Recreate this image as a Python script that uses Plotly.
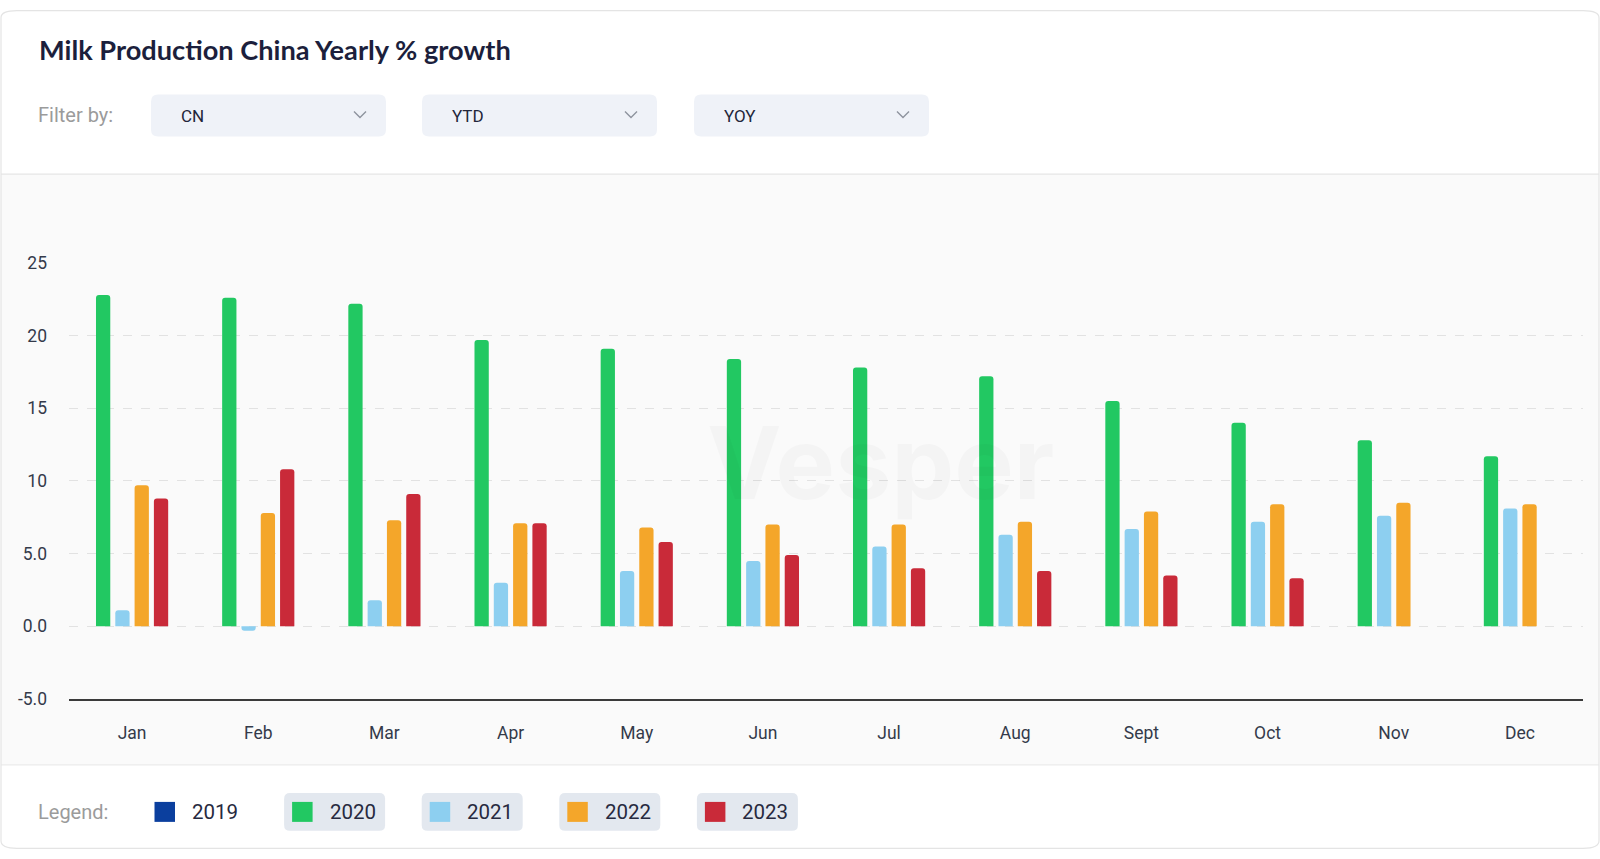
import plotly.graph_objects as go

W, H = 1600, 859

months = ["Jan", "Feb", "Mar", "Apr", "May", "Jun", "Jul", "Aug", "Sept", "Oct", "Nov", "Dec"]
years = ["2019", "2020", "2021", "2022", "2023"]
colors = ["#0b3f9e", "#22c862", "#8dcff0", "#f4a62a", "#c92a39"]
v2020 = [22.8, 22.6, 22.2, 19.7, 19.1, 18.4, 17.8, 17.2, 15.5, 14.0, 12.8, 11.7]
v2021 = [1.1, -0.3, 1.8, 3.0, 3.8, 4.5, 5.5, 6.3, 6.7, 7.2, 7.6, 8.1]
v2022 = [9.7, 7.8, 7.3, 7.1, 6.8, 7.0, 7.0, 7.2, 7.9, 8.4, 8.5, 8.4]
v2023 = [8.8, 10.8, 9.1, 7.1, 5.8, 4.9, 4.0, 3.8, 3.5, 3.3, None, None]
series = {"2020": v2020, "2021": v2021, "2022": v2022, "2023": v2023}
ytickvals = [-5, 0, 5, 10, 15, 20, 25]
yticktext = ["-5.0", "0.0", "5.0", "10", "15", "20", "25"]
filters = ["CN", "YTD", "YOY"]
title = "Milk Production China Yearly % growth"

# empirical vertical correction of the rendered page (measured on a first render)
V_OFF, V_SCALE = 9.3, 0.9777


def px(x):
    return x / W


def py(y):
    yin = (y - V_OFF) / V_SCALE
    yin = min(max(yin, 0.6), H - 0.6)
    return 1 - yin / H


def rrect(x0, y0, x1, y1, r):
    pts = [
        f"M {px(x0 + r)} {py(y0)}",
        f"L {px(x1 - r)} {py(y0)}",
        f"Q {px(x1)} {py(y0)} {px(x1)} {py(y0 + r)}",
        f"L {px(x1)} {py(y1 - r)}",
        f"Q {px(x1)} {py(y1)} {px(x1 - r)} {py(y1)}",
        f"L {px(x0 + r)} {py(y1)}",
        f"Q {px(x0)} {py(y1)} {px(x0)} {py(y1 - r)}",
        f"L {px(x0)} {py(y0 + r)}",
        f"Q {px(x0)} {py(y0)} {px(x0 + r)} {py(y0)}",
        "Z",
    ]
    return " ".join(pts)


fig = go.Figure()
for yr in ["2020", "2021", "2022", "2023"]:
    fig.add_trace(go.Bar(
        x=months, y=series[yr], name=yr,
        marker=dict(color=colors[years.index(yr)], line=dict(width=0)),
        showlegend=False, hoverinfo="x+y+name",
    ))

shapes = []
annotations = []

# plot band background
shapes.append(dict(type="rect", xref="paper", yref="paper", x0=px(1), x1=px(1599),
                    y0=py(765), y1=py(173.5), fillcolor="#fafafa", line=dict(width=0), layer="below"))
shapes.append(dict(type="line", xref="paper", yref="paper", x0=px(1), x1=px(1599),
                    y0=py(173.5), y1=py(173.5), line=dict(color="#e6e6e6", width=1.2), layer="below"))
shapes.append(dict(type="line", xref="paper", yref="paper", x0=px(1), x1=px(1599),
                    y0=py(765), y1=py(765), line=dict(color="#ebebeb", width=1.2), layer="below"))
# card border
shapes.append(dict(type="path", xref="paper", yref="paper", path=rrect(1, 1, 1599, 857, 16),
                    line=dict(color="#e4e4e4", width=1.2), fillcolor="rgba(0,0,0,0)", layer="above"))

# title
annotations.append(dict(text=title, x=px(37), y=py(49), xref="paper", yref="paper",
                        xanchor="left", yanchor="middle", showarrow=False,
                        font=dict(family="Lato", size=27.2, color="#1c1f3c", weight="bold")))
# filter row
annotations.append(dict(text="Filter by:", x=px(36), y=py(114), xref="paper", yref="paper",
                        xanchor="left", yanchor="middle", showarrow=False,
                        font=dict(family="Roboto", size=20, color="#9b9b9b")))
box_x = [151, 422, 694]
for i, f in enumerate(filters):
    bx = box_x[i]
    shapes.append(dict(type="path", xref="paper", yref="paper", path=rrect(bx, 94, bx + 235, 136, 7),
                        fillcolor="#eff2f8", line=dict(width=0), layer="below"))
    annotations.append(dict(text=f, x=px(bx + 28), y=py(115), xref="paper", yref="paper",
                            xanchor="left", yanchor="middle", showarrow=False,
                            font=dict(family="Roboto", size=17, color="#23263a")))
    cx = bx + 209
    shapes.append(dict(type="path", xref="paper", yref="paper",
                        path=f"M {px(cx - 6)} {py(111)} L {px(cx)} {py(117)} L {px(cx + 6)} {py(111)}",
                        line=dict(color="#8e939e", width=1.4), layer="above"))

# watermark
annotations.append(dict(text="Vesper", x=px(880), y=py(462), xref="paper", yref="paper",
                        xanchor="center", yanchor="middle", showarrow=False,
                        font=dict(family="Inter", size=100, color="rgba(0,0,0,0.025)", weight="bold")))

# legend
annotations.append(dict(text="Legend:", x=px(36), y=py(812), xref="paper", yref="paper",
                        xanchor="left", yanchor="middle", showarrow=False,
                        font=dict(family="Roboto", size=20, color="#9b9b9b")))
for i, yr in enumerate(years):
    cx0 = 146.5 + i * 137.6
    if yr != "2019":
        shapes.append(dict(type="path", xref="paper", yref="paper", path=rrect(cx0, 793, cx0 + 101, 831, 6),
                            fillcolor="#e3e8ef", line=dict(width=0), layer="below"))
    shapes.append(dict(type="rect", xref="paper", yref="paper", x0=px(cx0 + 8), x1=px(cx0 + 28.5),
                        y0=py(822), y1=py(802), fillcolor=colors[i], line=dict(width=0), layer="above"))
    annotations.append(dict(text=yr, x=px(cx0 + 43.5), y=py(812), xref="paper", yref="paper",
                            xanchor="left", yanchor="middle", showarrow=False,
                            font=dict(family="Roboto", size=20.5, color="#272a40")))

fig.update_layout(
    width=W, height=H,
    margin=dict(l=0, r=0, t=0, b=0),
    paper_bgcolor="#ffffff",
    plot_bgcolor="rgba(0,0,0,0)",
    barmode="group",
    bargap=0.388,
    bargroupgap=0.26,
    barcornerradius=3,
    shapes=shapes,
    annotations=annotations,
    showlegend=False,
    font=dict(family="Roboto"),
)
fig.update_xaxes(
    domain=[px(69), px(1583)],
    range=[-0.5, 11.5],
    showgrid=False, zeroline=False,
    showline=True, linecolor="#3a3a3a", linewidth=1.5,
    ticks="", ticklabelstandoff=17,
    tickfont=dict(family="Roboto", size=17.5, color="#343a4a"),
)
fig.update_yaxes(
    domain=[py(699), py(262.5)],
    range=[-5, 25],
    tickvals=ytickvals, ticktext=yticktext,
    showgrid=True, gridcolor="#e2e2e2", griddash="dash", gridwidth=1,
    zeroline=False, showline=False,
    ticks="", ticklabelstandoff=21,
    tickfont=dict(family="Roboto", size=17.5, color="#343a4a"),
)

fig.write_html("out.html")
